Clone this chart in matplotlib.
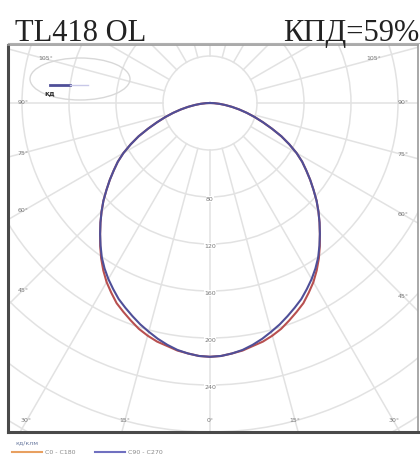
import matplotlib.pyplot as plt
import numpy as np
from matplotlib.lines import Line2D
from matplotlib.patches import Ellipse, Circle

# light intensity curves, cd/klm, angle from nadir (symmetric both sides)
angles = [0, 2.5, 5, 7.5, 10, 12.5, 15, 17.5, 20, 22.5, 25, 27.5, 30, 32.5, 35, 37.5,
          40, 42.5, 45, 47.5, 50, 52.5, 55, 57.5, 60, 62.5, 65, 67.5, 70, 72.5, 75,
          77.5, 80, 82.5, 85, 87.5, 90]
c90_c270 = [216, 215.5, 214, 212, 209, 205.5, 201.5, 197.5, 193, 188.5, 184, 178.5,
            173, 167, 160.5, 153, 145.5, 138, 130.5, 123, 115, 107.5, 100, 93, 85,
            76, 67, 57, 48, 40, 32.5, 25.5, 19, 13, 8, 3.5, 0]
c0_c180 = [216, 215.5, 214, 212.5, 210, 208, 205, 201.5, 197, 192.5, 188, 182,
           176, 169, 161.5, 153.5, 145.5, 138, 130.5, 123, 115, 107.5, 100, 93, 85,
           76, 67, 57, 48, 40, 32.5, 25.5, 19, 13, 8, 3.5, 0]

ring_values = [80, 120, 160, 200, 240]
angle_labels = [0, 15, 30, 45, 60, 75, 90, 105]

title_left = "TL418 OL"
title_right = "КПД=59%"
legend_names = ["С0 - С180", "С90 - С270"]
unit_text = "кд/клм"

W, H = 420, 457
px = 47 / 40.0  # pixels per cd
cx, cy = 210, 103  # polar centre in pixels
fl, fr, ft, fb = 8, 418, 45, 432  # frame edges

fig = plt.figure(figsize=(W / 100, H / 100), dpi=100)
ax = fig.add_axes([fl / W, 1 - fb / H, (fr - fl) / W, (fb - ft) / H])
xmin, xmax = (fl - cx) / px, (fr - cx) / px
ymin, ymax = -(fb - cy) / px, (cy - ft) / px
ax.set_xlim(xmin, xmax)
ax.set_ylim(ymin, ymax)
ax.set_xticks([])
ax.set_yticks([])

grid_col = '#e2e2e2'
# rings
for r in range(40, 440, 40):
    ax.add_patch(Circle((0, 0), r, fill=False, ec=grid_col, lw=1.1, zorder=1))
# radial lines
for a in range(-180, 180, 15):
    t = np.radians(a)
    ax.plot([40 * np.sin(t), 600 * np.sin(t)], [-40 * np.cos(t), -600 * np.cos(t)],
            color=grid_col, lw=1.1, zorder=1)

# ring labels
for r in ring_values:
    ax.text(0, -r - 2, str(r), fontsize=4.5, color='#777777', ha='center', va='center',
            zorder=3, bbox=dict(fc='white', ec='none', pad=0.3))

# angle labels at frame edges
ix0, ix1 = xmin + 15 / px, xmax - 15 / px
iy0 = ymin + 11 / px
iy1 = ymax - 14 / px
for a in angle_labels:
    for s in ([1] if a == 0 else [-1, 1]):
        t = np.radians(a) * s
        dx, dy = np.sin(t), -np.cos(t)
        ts = []
        if dx > 1e-9:
            ts.append(ix1 / dx)
        if dx < -1e-9:
            ts.append(ix0 / dx)
        if dy < -1e-9:
            ts.append(iy0 / dy)
        if dy > 1e-9:
            ts.append(iy1 / dy)
        k = min(ts)
        ax.text(k * dx, k * dy, f"{a}°", fontsize=4.5, color='#777777',
                ha='center', va='center', zorder=3)

# curves
th = np.radians(angles)
full_th = np.concatenate([-th[::-1], th[1:]])
red = np.array(c0_c180, float)
blue = np.array(c90_c270, float)
red_full = np.concatenate([red[::-1], red[1:]])
blue_full = np.concatenate([blue[::-1], blue[1:]])
ax.plot(red_full * np.sin(full_th), -red_full * np.cos(full_th), color='#b85050', lw=1.5, zorder=4)
ax.plot(blue_full * np.sin(full_th), -blue_full * np.cos(full_th), color='#4f4f98', lw=1.5, zorder=5)

# legend ellipse in top left corner
ax.add_patch(Ellipse(((80 - cx) / px, (cy - 79) / px), 100 / px, 42 / px,
                     fill=False, ec='#d8d8d8', lw=1.0, zorder=2))
ax.plot([(50 - cx) / px, (70 - cx) / px], [(cy - 85) / px] * 2, color='#4f4f98', lw=2, zorder=3)
ax.plot([(70 - cx) / px, (88 - cx) / px], [(cy - 85) / px] * 2, color='#c8c8e8', lw=1, zorder=3)
ax.text((44 - cx) / px, (cy - 93) / px, "кд", fontsize=5, color='#333333', fontweight='bold',
        ha='left', va='center', zorder=3)

# frame
for side in ['left', 'bottom']:
    ax.spines[side].set_color('#4a4a4a')
    ax.spines[side].set_linewidth(2.2)
ax.spines['top'].set_color('#9a9a9a')
ax.spines['top'].set_linewidth(1.2)
ax.spines['right'].set_color('#9a9a9a')
ax.spines['right'].set_linewidth(1.2)
fig.add_artist(Line2D([fl / W, 1], [1 - 42.5 / H] * 2, color='#b0b0b0', lw=0.8))

# titles
fig.text(15 / W, 1 - 41 / H, title_left, fontsize=22, family='Liberation Serif',
         color='#222222', ha='left', va='baseline')
fig.text(419 / W, 1 - 41 / H, title_right, fontsize=22, family='Liberation Serif',
         color='#222222', ha='right', va='baseline')

# bottom legend
fig.text(15 / W, 1 - 443 / H, unit_text, fontsize=4.5, color='#6a7aa0', ha='left', va='center')
fig.add_artist(Line2D([12 / W, 42 / W], [1 - 452 / H] * 2, color='#e8a060', lw=1.5))
fig.text(45 / W, 1 - 452 / H, legend_names[0], fontsize=4.5, color='#888888', ha='left', va='center')
fig.add_artist(Line2D([95 / W, 125 / W], [1 - 452 / H] * 2, color='#7070c0', lw=1.5))
fig.text(128 / W, 1 - 452 / H, legend_names[1], fontsize=4.5, color='#888888', ha='left', va='center')

fig.savefig('out.png', dpi=100, facecolor='white')
